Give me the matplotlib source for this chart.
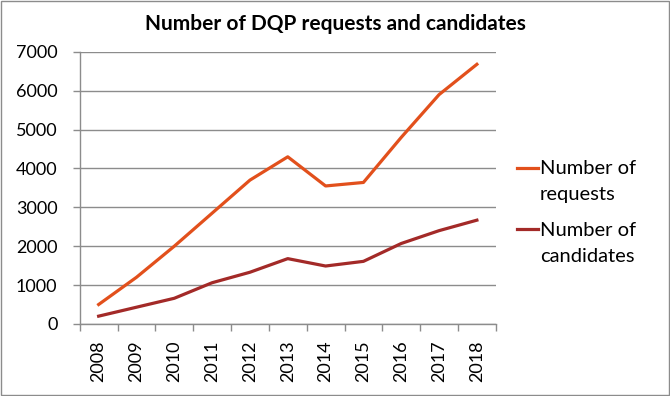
import matplotlib
matplotlib.use("Agg")
import matplotlib.pyplot as plt
from matplotlib.lines import Line2D
from matplotlib.patches import Rectangle

years = ["2008", "2009", "2010", "2011", "2012", "2013", "2014", "2015", "2016", "2017", "2018"]
requests = [500, 1200, 2000, 2850, 3700, 4300, 3550, 3640, 4800, 5900, 6680]
candidates = [200, 430, 660, 1060, 1330, 1680, 1490, 1610, 2070, 2400, 2670]

plt.rcParams['font.family'] = ['Lato', 'DejaVu Sans']
grey = '#8c8c8c'
c_req = '#e2501c'
c_cand = '#a32a28'

W, H = 670, 396
fig = plt.figure(figsize=(6.7, 3.96), dpi=100)
ax = fig.add_axes([0.119, 0.182, 0.621, 0.687])

x = list(range(len(years)))
ax.plot(x, requests, color=c_req, lw=2.3)
ax.plot(x, candidates, color=c_cand, lw=2.3)

ax.set_xlim(-0.5, len(years) - 0.5)
ax.set_ylim(0, 7000)
ax.set_yticks(range(0, 7001, 1000))
ax.set_yticklabels([str(v) for v in range(0, 7001, 1000)], fontsize=13)
ax.set_xticks(x)
ax.set_xticklabels(years, rotation=90, fontsize=13)
ax.set_xticks([i - 0.5 for i in range(len(years) + 1)], minor=True)
ax.tick_params(axis='x', which='major', length=0, pad=12)
ax.tick_params(axis='x', which='minor', length=5, color=grey, width=1)
ax.tick_params(axis='y', length=5, color=grey, width=1, pad=11)
ax.grid(axis='y', color=grey, lw=1)
ax.set_axisbelow(True)
for s in ['top', 'right']:
    ax.spines[s].set_visible(False)
for s in ['left', 'bottom']:
    ax.spines[s].set_color(grey)
    ax.spines[s].set_linewidth(1)

fig.text(0.5, 1 - 24 / H, "Number of DQP requests and candidates", ha='center', va='center',
         fontsize=15, fontweight='bold')

# legend, first line of each label level with its line sample
legend_items = [(c_req, "Number of", "requests", 167.5),
                (c_cand, "Number of", "candidates", 229)]
for col, l1, l2, yl in legend_items:
    fig.add_artist(Line2D([517 / W, 538 / W], [1 - yl / H, 1 - yl / H], color=col, lw=2.3))
    fig.text(540 / W, 1 - (yl + 6.5) / H, l1, fontsize=14.5, va='baseline', ha='left')
    fig.text(540 / W, 1 - (yl + 33) / H, l2, fontsize=14.5, va='baseline', ha='left')

fig.add_artist(Rectangle((0.0015, 0.0025), 0.997, 0.995, transform=fig.transFigure,
                         fill=False, edgecolor=grey, lw=1))

fig.savefig("out.png", dpi=100)
